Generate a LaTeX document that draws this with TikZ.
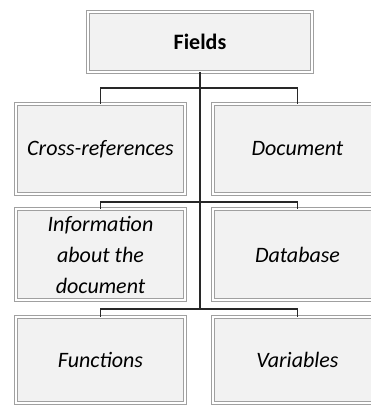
\documentclass[tikz,border=0pt]{standalone}
\usepackage{fontspec}
\setmainfont{Carlito}
\usepackage{tikz}
\usetikzlibrary{positioning}
\usepackage{xcolor}
\definecolor{fdfill}{RGB}{242,242,242}
\definecolor{fdedge}{RGB}{160,160,160}
\definecolor{fdline}{RGB}{40,40,40}
\tikzstyle{fieldbox} = [draw=fdedge, line width=0.9pt, double=white, double distance=1.4pt, fill=fdfill, minimum width=169pt, minimum height=90pt, inner sep=2pt, align=center, font=\fontsize{22}{31}\selectfont\itshape]
\tikzstyle{link} = [line width=1.6pt, color=fdline]

\begin{document}
\begin{tikzpicture}[x=1pt, y=1pt]
\useasboundingbox (0,0) rectangle (371,405);
\clip (0,0) rectangle (371,405);
% top box
\node[fieldbox, minimum width=224pt, minimum height=60pt, font=\fontsize{22}{31}\selectfont\bfseries] (fields) at (200,363) {Fields};

% first row
\node[fieldbox] (cross) at (100.5,256) {Cross-references};
\node[fieldbox] (doc) at (297.5,256) {Document};

% second row
\node[fieldbox, minimum height=91pt] (info) at (100.5,150.5) {Information\\about the\\document};
\node[fieldbox, minimum height=91pt] (db) at (297.5,150.5) {Database};

% third row
\node[fieldbox, minimum height=86pt] (func) at (100.5,45) {Functions};
\node[fieldbox, minimum height=86pt] (var) at (297.5,45) {Variables};

% connectors
\coordinate (bar1) at (200,317);
\coordinate (bar2) at (200,203);
\coordinate (bar3) at (200,96);
\draw[link] (fields.south) -- (bar3);
\draw[link] (cross.north) |- (bar1) -| (doc.north);
\draw[link] (info.north) |- (bar2) -| (db.north);
\draw[link] (func.north) |- (bar3) -| (var.north);
\end{tikzpicture}
\end{document}
